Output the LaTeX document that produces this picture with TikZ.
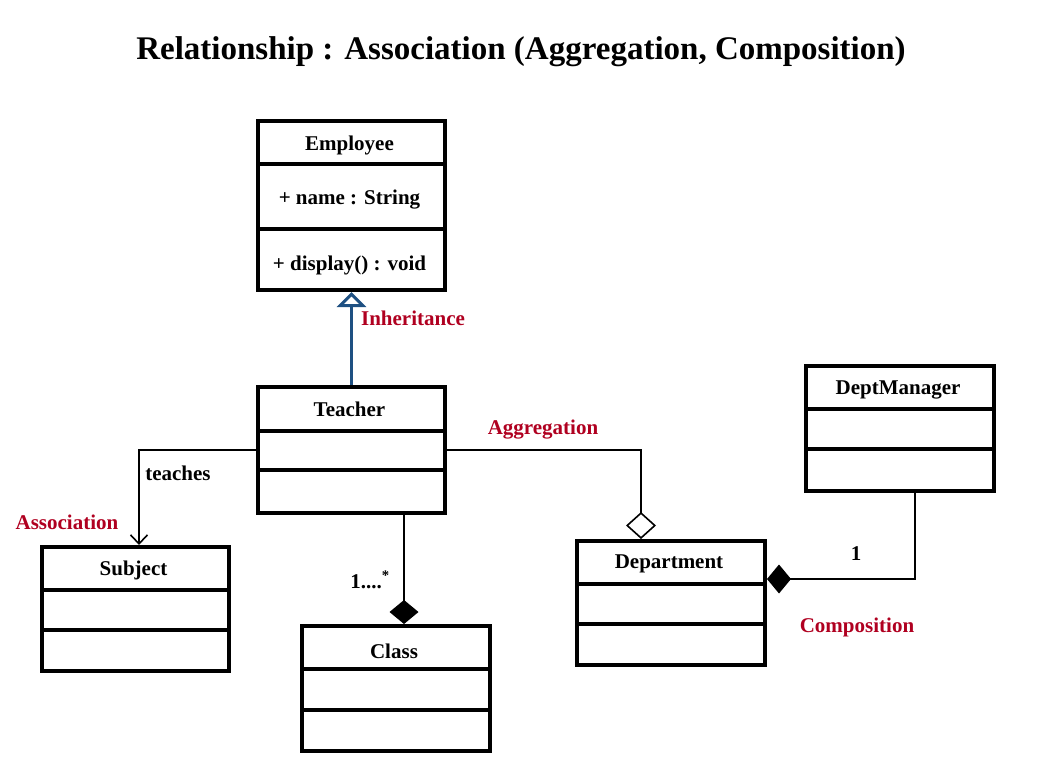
\documentclass[tikz,border=0pt]{standalone}
\usepackage{fontspec}
\setmainfont{Liberation Serif}
\usetikzlibrary{arrows.meta,calc}
\definecolor{lblred}{RGB}{176,0,32}
\definecolor{inhblue}{RGB}{30,80,130}
\tikzset{
  umlbox/.style={draw=black, line width=4pt, fill=white, anchor=north west, inner sep=0pt},
  divider/.style={line width=4pt},
  boxtxt/.style={font=\bfseries\fontsize{21}{24}\selectfont, inner sep=0pt},
  lbl/.style={font=\bfseries\fontsize{21}{24}\selectfont, text=lblred, inner sep=0pt},
  plain/.style={font=\bfseries\fontsize{21}{24}\selectfont, inner sep=0pt},
  inh/.style={draw=inhblue, line width=3pt, -{Triangle[open, length=15pt, width=29pt, line width=3pt]}},
  assoc/.style={line width=1.6pt, -{Straight Barb[length=9pt, width=17pt, line width=1.6pt]}},
  aggr/.style={line width=1.6pt, -{Diamond[open, fill=white, length=27pt, width=30pt, line width=1.6pt]}},
  compo/.style={line width=1.6pt, -{Diamond[length=24pt, width=29pt]}},
}
\begin{document}
\begin{tikzpicture}[x=1pt, y=-1pt]
\useasboundingbox (0,0) rectangle (1044,763);
\node[font=\bfseries\fontsize{33}{38}\selectfont, inner sep=0pt] (title) at (521,52) {Relationship : Association (Aggregation, Composition)};

% Employee
\node[umlbox, minimum width=187pt, minimum height=169pt] (emp) at (256,119) {};
\draw[divider] (emp.west |- 0,164) -- (emp.east |- 0,164);
\draw[divider] (emp.west |- 0,229) -- (emp.east |- 0,229);
\node[boxtxt] (empname) at (349.5,145) {Employee};
\node[boxtxt] (empattr) at (349.5,200) {+ name : String};
\node[boxtxt] (empop) at (349.5,265) {+ display() : void};

% Teacher
\node[umlbox, minimum width=187pt, minimum height=126pt] (teacher) at (256,385) {};
\draw[divider] (teacher.west |- 0,431) -- (teacher.east |- 0,431);
\draw[divider] (teacher.west |- 0,470) -- (teacher.east |- 0,470);
\node[boxtxt] (teachername) at (349.5,409) {Teacher};

% Subject
\node[umlbox, minimum width=187pt, minimum height=124pt] (subject) at (40,545) {};
\draw[divider] (subject.west |- 0,590) -- (subject.east |- 0,590);
\draw[divider] (subject.west |- 0,630) -- (subject.east |- 0,630);
\node[boxtxt] (subjectname) at (133.5,570) {Subject};

% Class
\node[umlbox, minimum width=188pt, minimum height=125pt] (class) at (300,624) {};
\draw[divider] (class.west |- 0,669) -- (class.east |- 0,669);
\draw[divider] (class.west |- 0,710) -- (class.east |- 0,710);
\node[boxtxt] (classname) at (394,651) {Class};

% Department
\node[umlbox, minimum width=188pt, minimum height=124pt] (dept) at (575,539) {};
\draw[divider] (dept.west |- 0,584) -- (dept.east |- 0,584);
\draw[divider] (dept.west |- 0,624) -- (dept.east |- 0,624);
\node[boxtxt] (deptname) at (669,564) {Department};

% DeptManager
\node[umlbox, minimum width=188pt, minimum height=125pt] (mgr) at (804,364) {};
\draw[divider] (mgr.west |- 0,409) -- (mgr.east |- 0,409);
\draw[divider] (mgr.west |- 0,449) -- (mgr.east |- 0,449);
\node[boxtxt] (mgrname) at (898,390) {DeptManager};

% connector end points
\coordinate (subjtop) at ([xshift=3.5pt]subject.north);
\coordinate (depttop) at ([xshift=-30pt]dept.north);
\coordinate (classtop) at ([xshift=8pt]class.north);
\coordinate (mgrbot) at ([xshift=15pt]mgr.south);
\coordinate (deptright) at ([yshift=24pt]dept.east);

% connectors
\draw[inh] (teacher.north) -- (emp.south);
\draw[assoc] (teacher.west) -| (subjtop);
\draw[aggr] (teacher.east) -| (depttop);
\draw[compo] (teacher.south -| classtop) -- (classtop);
\draw[compo] (mgrbot) |- (deptright);

% labels
\node[lbl] (inhlbl) at (413,318) {Inheritance};
\node[plain] (teacheslbl) at (178,473) {teaches};
\node[lbl] (assoclbl) at (67,522) {Association};
\node[lbl] (aggrlbl) at (543,430) {Aggregation};
\node[plain] (multlbl) at (370,580) {1....\textsuperscript{*}};
\node[plain] (onelbl) at (856,554) {1};
\node[lbl] (complbl) at (857,627) {Composition};
\end{tikzpicture}
\end{document}
